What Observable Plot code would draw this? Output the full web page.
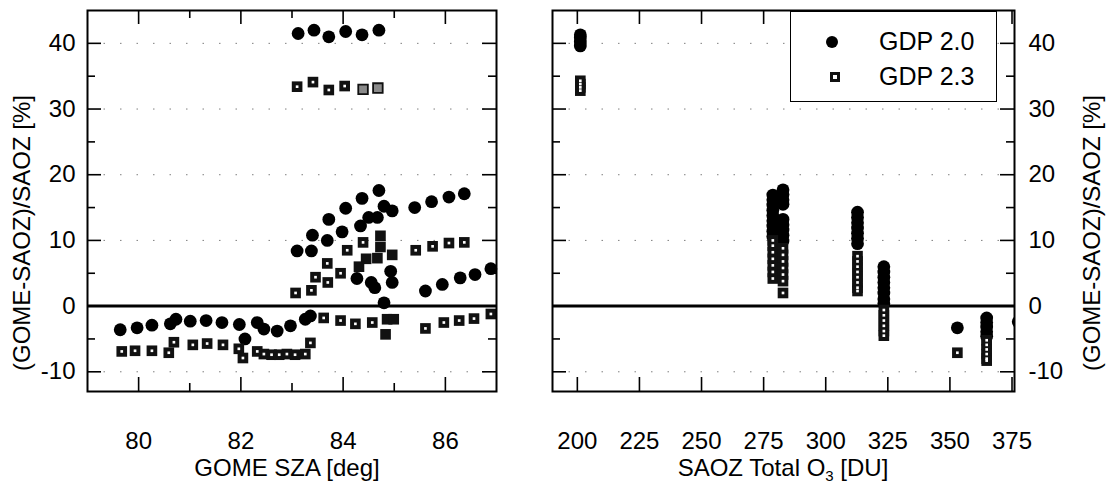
<!DOCTYPE html>
<html><head><meta charset="utf-8">
<script src="https://cdn.jsdelivr.net/npm/d3@7"></script>
<script src="https://cdn.jsdelivr.net/npm/@observablehq/plot@0.6"></script>
<style>
body{margin:0;background:#fff;}
#wrap{position:relative;width:1109px;height:482px;font-family:"Liberation Sans",Arial,Helvetica,sans-serif;color:#000;overflow:hidden;}
#left{position:absolute;left:0;top:0;width:530px;height:482px;}
#right{position:absolute;left:530px;top:0;width:579px;height:482px;}
.title{position:absolute;font-size:24px;white-space:nowrap;line-height:1;transform:translate(-50%,-50%);}
.rot{transform:translate(-50%,-50%) rotate(-90deg);}
.title sub{font-size:15px;line-height:0;vertical-align:-0.3em;}
#legend{position:absolute;left:790px;top:11px;width:207px;height:91px;border:1.5px solid #000;background:#fff;box-sizing:border-box;}
#legend .lt{position:absolute;font-size:25px;line-height:1;white-space:nowrap;}
#legend .lc{position:absolute;width:12px;height:12px;border-radius:50%;background:#000;}
#legend .ls{position:absolute;width:10px;height:10px;background:#111;}
#legend .ls i{position:absolute;left:3px;top:3px;width:4px;height:4px;background:#fff;}
</style></head><body>
<div id="wrap">
  <div id="left"></div>
  <div id="right"></div>
  <div class="title rot" style="left:22px;top:233px">(GOME-SAOZ)/SAOZ [%]</div>
  <div class="title rot" style="left:1092px;top:233px">(GOME-SAOZ)/SAOZ [%]</div>
  <div class="title" style="left:287px;top:468px">GOME SZA [deg]</div>
  <div class="title" style="left:783px;top:468px">SAOZ Total O<sub>3</sub> [DU]</div>
  <div id="legend">
    <span class="lc" style="left:35px;top:24px"></span>
    <span class="lt" style="left:88px;top:17px">GDP 2.0</span>
    <span class="ls" style="left:39px;top:60px"><i></i></span>
    <span class="lt" style="left:88px;top:52px">GDP 2.3</span>
  </div>
</div>
<script>
// ---------- data ----------
const yDomain = [-13, 45];
const yTicks = [-10, 0, 10, 20, 30, 40];
const yMinor = [-5, 5, 15, 25, 35];
const yGrid = [-10, 10, 20, 30, 40];

const szaDomain = [79, 87];
const szaTicks = [80, 82, 84, 86];
const szaMinor = [81, 83, 85];

const o3Domain = [190, 376];
const o3Ticks = [200, 225, 250, 275, 300, 325, 350, 375];

// left panel: [GOME SZA, (GOME-SAOZ)/SAOZ %]
const szaGdp20 = [
  [79.64,-3.6],[79.97,-3.3],[80.26,-2.9],[80.62,-2.7],[80.73,-2.0],[81.01,-2.3],[81.32,-2.2],[81.63,-2.5],
  [81.97,-2.8],[82.08,-5.0],[82.32,-2.5],[82.45,-3.5],[82.71,-3.8],[82.97,-3.0],[83.26,-2.0],[83.36,-1.5],
  [83.10,8.4],[83.38,8.4],[83.40,10.8],[83.69,10.0],[83.72,13.2],[83.98,11.3],[84.05,14.9],[84.34,12.2],
  [84.37,16.4],[84.50,13.5],[84.67,13.5],[84.70,17.6],[84.80,15.2],[84.96,14.5],[85.40,15.0],[85.73,15.9],
  [86.07,16.6],[86.37,17.1],
  [84.27,4.2],[84.55,3.6],[84.62,2.8],[84.96,3.6],[84.93,5.3],[84.80,0.5],[85.61,2.3],[85.94,3.3],
  [86.29,4.3],[86.58,4.8],[86.89,5.7],
  [83.12,41.5],[83.43,42.0],[83.72,41.0],[84.05,41.8],[84.37,41.3],[84.70,42.0]
];
const szaGdp23Open = [
  [79.67,-6.9],[79.93,-6.8],[80.26,-6.8],[80.59,-7.1],[80.69,-5.5],[81.06,-5.9],[81.34,-5.7],[81.65,-5.9],
  [81.96,-6.5],[82.04,-7.9],[82.32,-6.9],[82.45,-7.3],[82.60,-7.4],[82.75,-7.4],[82.90,-7.3],[83.06,-7.4],
  [83.26,-7.3],[83.36,-5.6],
  [83.07,2.0],[83.38,2.4],[83.46,4.4],[83.70,3.6],[83.69,6.5],[83.95,5.0],[84.08,8.5],[84.39,9.7],
  [85.42,8.5],[85.75,9.1],[86.07,9.6],[86.37,9.7],
  [83.62,-1.8],[83.95,-2.2],[84.24,-2.7],[84.57,-2.5],[85.61,-3.4],[85.97,-2.5],[86.27,-2.2],[86.56,-1.9],[86.89,-1.2],
  [83.10,33.4],[83.41,34.1],[83.72,32.9],[84.03,33.5]
];
const szaGdp23Solid = [
  [84.73,10.7],[84.73,9.0],[84.96,7.8],[84.67,7.3],[84.45,7.2],[84.31,6.0],[84.86,-2.0],[84.99,-2.0],[84.83,-4.3]
];
const szaGdp23Gray = [[84.39,33.0],[84.68,33.2]];

// right panel: SAOZ total O3 columns and the values in each
const o3Columns = [201.2, 278.7, 282.8, 312.8, 323.4, 353.0, 364.8, 377.5];
const o3Gdp20 = [
  [39.6, 40.2, 40.8, 41.3],
  [16.9, 16.2, 15.4, 14.6, 13.8, 13.0, 12.2, 11.4, 10.6],
  [17.7, 17.0, 16.2, 15.5, 13.2, 12.4, 11.6, 10.8, 9.9],
  [14.3, 13.5, 12.7, 11.9, 11.1, 10.3, 9.5],
  [6.0, 5.2, 4.4, 3.6, 2.8, 2.0, 1.1, 0.4],
  [-3.3],
  [-1.8, -2.5, -3.2, -3.9, -4.6],
  [-2.4]
];
const o3Gdp23 = [
  [32.8, 33.3, 33.8, 34.3],
  [10.0, 9.2, 8.2, 7.2, 6.2, 5.2, 4.2],
  [8.8, 7.8, 6.8, 5.8, 4.8, 3.8, 2.0],
  [7.6, 6.8, 6.0, 5.2, 4.4, 3.6, 2.8, 2.3],
  [-0.6, -1.4, -2.2, -3.0, -3.8, -4.5],
  [-7.1],
  [-5.2, -5.9, -6.6, -7.3, -8.0, -8.3],
  []
];

// ---------- layout ----------
const FONT = '"Liberation Sans", Arial, Helvetica, sans-serif';
const H = 482, MT = 10, MB = 91;
const FH = H - MT - MB;
const MAJ = 14, MIN = 8;
const CR = 6.4;          // circle radius
const SQ = 6.0;          // square "r" (side ~10.6px)
const SQIN = 1.5;        // inner speck

const flat = (cols, vals) => cols.flatMap((c, i) => vals[i].map(v => [c, v]));
const o3Pts20 = flat(o3Columns, o3Gdp20);
const o3Pts23 = flat(o3Columns, o3Gdp23);

const X = d => d[0], Y = d => d[1];

function frameTicks(xMaj, xMin, fw) {
  const m = [];
  const sw = 1.6;
  m.push(Plot.tickX(xMaj, {x: d => d, insetTop: FH - MAJ, strokeWidth: sw}));
  m.push(Plot.tickX(xMaj, {x: d => d, insetBottom: FH - MAJ, strokeWidth: sw}));
  if (xMin.length) {
    m.push(Plot.tickX(xMin, {x: d => d, insetTop: FH - MIN, strokeWidth: sw}));
    m.push(Plot.tickX(xMin, {x: d => d, insetBottom: FH - MIN, strokeWidth: sw}));
  }
  m.push(Plot.tickY(yTicks, {y: d => d, insetRight: fw - MAJ, strokeWidth: sw}));
  m.push(Plot.tickY(yTicks, {y: d => d, insetLeft: fw - MAJ, strokeWidth: sw}));
  m.push(Plot.tickY(yMinor, {y: d => d, insetRight: fw - MIN, strokeWidth: sw}));
  m.push(Plot.tickY(yMinor, {y: d => d, insetLeft: fw - MIN, strokeWidth: sw}));
  return m;
}

// left panel
const LW = 530, LML = 87, LMR = 34;
const leftPlot = Plot.plot({
  width: LW, height: H, marginLeft: LML, marginRight: LMR, marginTop: MT, marginBottom: MB,
  style: {fontFamily: FONT, fontSize: "24px", background: "white", color: "black"},
  x: {domain: szaDomain, ticks: szaTicks, tickSize: 0, tickPadding: 40, tickFormat: d => String(d), label: null},
  y: {domain: yDomain, ticks: yTicks, tickSize: 0, tickPadding: 12, tickFormat: d => String(d), label: null, axis: "left"},
  marks: [
    Plot.ruleY(yGrid, {y: d => d, stroke: "#000", strokeOpacity: 0.5, strokeDasharray: "1.5 15"}),
    Plot.ruleY([0], {y: d => d, strokeWidth: 3}),
    ...frameTicks(szaTicks, szaMinor, LW - LML - LMR),
    Plot.dot(szaGdp20, {x: X, y: Y, r: CR, fill: "#000", stroke: "none"}),
    Plot.dot(szaGdp23Open, {x: X, y: Y, r: SQ, symbol: "square", fill: "#111", stroke: "none"}),
    Plot.dot(szaGdp23Open, {x: X, y: Y, r: SQIN, symbol: "square", fill: "#fff", stroke: "none"}),
    Plot.dot(szaGdp23Solid, {x: X, y: Y, r: SQ, symbol: "square", fill: "#111", stroke: "none"}),
    Plot.dot(szaGdp23Gray, {x: X, y: Y, r: SQ - 0.6, symbol: "square", fill: "#8a8a8a", stroke: "#111", strokeWidth: 1.8}),
    Plot.frame({stroke: "#000", strokeWidth: 2})
  ]
});
document.getElementById("left").appendChild(leftPlot);

// right panel
const RW = 579, RML = 22, RMR = 95;
const rightPlot = Plot.plot({
  width: RW, height: H, marginLeft: RML, marginRight: RMR, marginTop: MT, marginBottom: MB,
  style: {fontFamily: FONT, fontSize: "24px", background: "white", color: "black"},
  x: {domain: o3Domain, ticks: o3Ticks, tickSize: 0, tickPadding: 40, tickFormat: d => String(d), label: null},
  y: {domain: yDomain, ticks: yTicks, tickSize: 0, tickPadding: 14, tickFormat: d => String(d), label: null, axis: "right"},
  marks: [
    Plot.ruleY(yGrid, {y: d => d, stroke: "#000", strokeOpacity: 0.5, strokeDasharray: "1.5 15"}),
    Plot.ruleY([0], {y: d => d, strokeWidth: 3}),
    ...frameTicks(o3Ticks, [], RW - RML - RMR),
    Plot.dot(o3Pts20, {x: X, y: Y, r: CR, fill: "#000", stroke: "none", clip: true}),
    Plot.dot(o3Pts23, {x: X, y: Y, r: SQ, symbol: "square", fill: "#111", stroke: "none", clip: true}),
    Plot.dot(o3Pts23, {x: X, y: Y, r: SQIN, symbol: "square", fill: "#fff", stroke: "none", clip: true}),
    Plot.frame({stroke: "#000", strokeWidth: 2})
  ]
});
document.getElementById("right").appendChild(rightPlot);
</script>
</body></html>
